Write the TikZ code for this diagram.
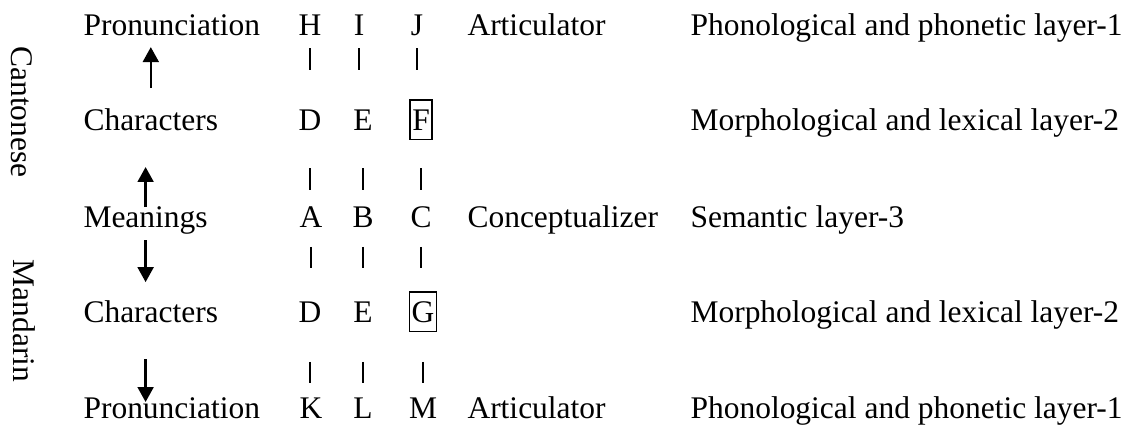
\documentclass[tikz,border=0pt]{standalone}
\usepackage{fontspec}
\setmainfont{Liberation Serif}
\usepackage{tikz}
\usetikzlibrary{arrows.meta}

\begin{document}
\begin{tikzpicture}[x=0.0134cm, y=-0.0134cm,
  every node/.style={font=\fontsize{12pt}{14.4pt}\selectfont, inner sep=0pt, anchor=base},
  row/.style={anchor=base west},
  side/.style={rotate=-90, anchor=base},
  boxed/.style={draw, line width=0.7pt, inner xsep=0.8pt, inner ysep=0.5pt,
    text height=10.9pt, text depth=3.1pt},
  flow/.style={line width=1pt, -{Triangle[width=6pt,length=5.7pt]}},
  bar/.style={line width=0.7pt},
  gapA/.style={bar, shorten <=5pt, shorten >=22.9pt},
  gapB/.style={bar, shorten <=14.5pt, shorten >=14.1pt},
  gapC/.style={bar, shorten <=7.6pt, shorten >=20.6pt},
  gapD/.style={bar, shorten <=15.2pt, shorten >=13.3pt}]

  \useasboundingbox (0,0) rectangle (1132,426);

  % LANGUAGES
  \node[side] (cant) at (12,112) {Cantonese};
  \node[side] (mand) at (13,321) {Mandarin};

  % LEVELS
  \node[row] (pr1) at (83,35)  {Pronunciation};
  \node[row] (ch1) at (83,130) {Characters};
  \node[row] (me)  at (83,227) {Meanings};
  \node[row] (ch2) at (83,322) {Characters};
  \node[row] (pr2) at (83,418) {Pronunciation};

  % LETTERS
  \node (H)  at (310,35)  {H};
  \node (I)  at (359,35)  {I};
  \node (J)  at (417,35)  {J};
  \node (D1) at (310,130) {D};
  \node (E1) at (363,130) {E};
  \node[boxed] (F) at (421,130) {F};
  \node (A)  at (311,227) {A};
  \node (B)  at (363,227) {B};
  \node (C)  at (421,227) {C};
  \node (D2) at (310,322) {D};
  \node (E2) at (363,322) {E};
  \node[boxed] (G) at (423,322) {G};
  \node (K)  at (311,418) {K};
  \node (L)  at (363,418) {L};
  \node (M)  at (423,418) {M};

  % COMPONENTS
  \node[row] (art1) at (467,35)  {Articulator};
  \node[row] (con)  at (467,227) {Conceptualizer};
  \node[row] (art2) at (467,418) {Articulator};

  % LAYERS
  \node[row] (ph1) at (690,35)  {Phonological and phonetic layer-1};
  \node[row] (mo1) at (690,130) {Morphological and lexical layer-2};
  \node[row] (se)  at (690,227) {Semantic layer-3};
  \node[row] (mo2) at (690,322) {Morphological and lexical layer-2};
  \node[row] (ph2) at (690,418) {Phonological and phonetic layer-1};

  % ARROWS
  \draw[flow, shorten <=16pt, shorten >=4.6pt] (ch1.base) -- (ch1.base |- pr1.base);
  \draw[flow, shorten <=7.6pt, shorten >=14.1pt] (me.base) -- (me.base |- ch1.base);
  \draw[flow, shorten <=5pt, shorten >=15.2pt] (me.base) -- (me.base |- ch2.base);
  \draw[flow, shorten <=14.1pt, shorten >=6.1pt] (me.base |- ch2.base) -- (me.base |- pr2.base);

  % BARS
  \draw[gapA] (H.base) -- (H.base |- D1.base);
  \draw[gapA] (I.base) -- (I.base |- E1.base);
  \draw[gapA] (J.base) -- (J.base |- F.base);
  \draw[gapB] (D1.base) -- (D1.base |- A.base);
  \draw[gapB] (E1.base) -- (E1.base |- B.base);
  \draw[gapB] (F.base) -- (F.base |- C.base);
  \draw[gapC] (A.base) -- (A.base |- D2.base);
  \draw[gapC] (B.base) -- (B.base |- E2.base);
  \draw[gapC] (C.base) -- (C.base |- G.base);
  \draw[gapD] (D2.base) -- (D2.base |- K.base);
  \draw[gapD] (E2.base) -- (E2.base |- L.base);
  \draw[gapD] (G.base) -- (G.base |- M.base);

\end{tikzpicture}
\end{document}
